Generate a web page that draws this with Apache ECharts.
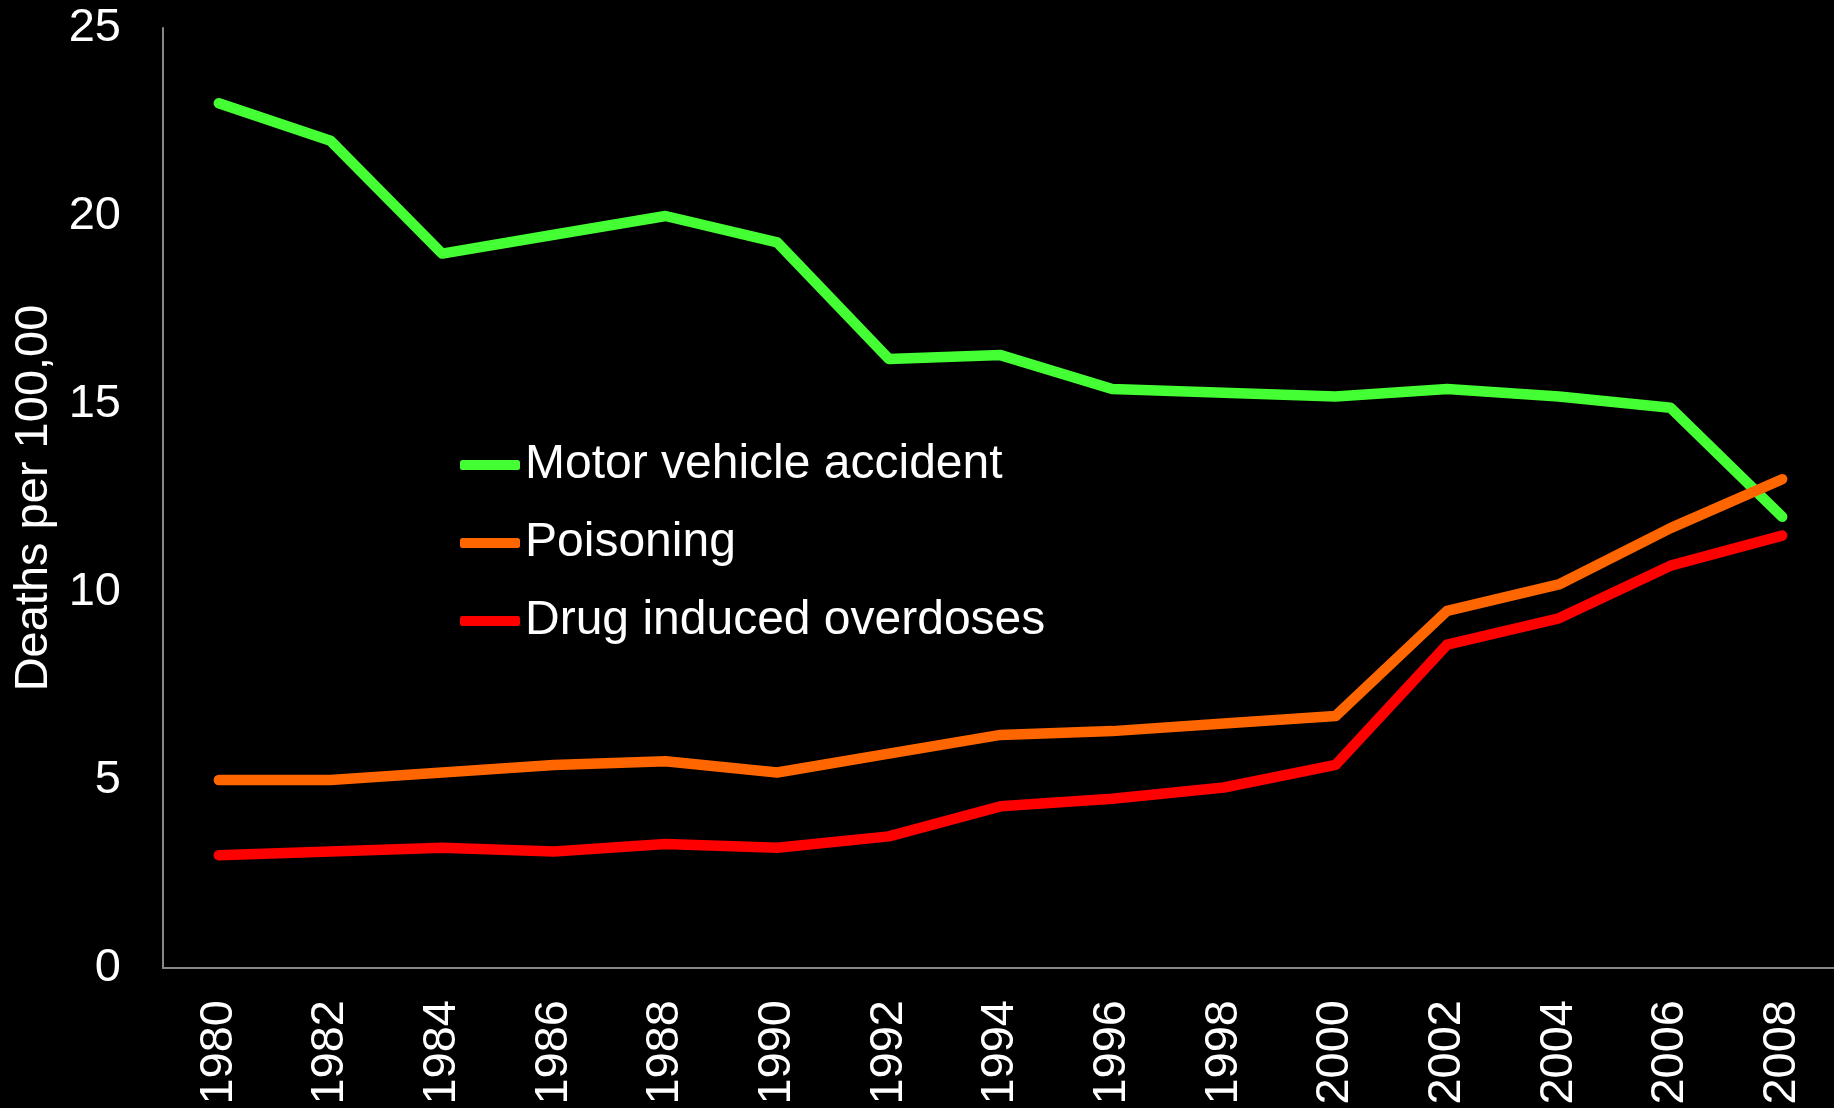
<!DOCTYPE html>
<html>
<head>
<meta charset="utf-8">
<script src="https://cdn.jsdelivr.net/npm/echarts@6/dist/echarts.min.js"></script>
<style>
html,body{margin:0;padding:0;background:#000;}
#chart{width:1834px;height:1108px;}
</style>
</head>
<body>
<div id="chart"></div>
<script>
const years = ['1980','1982','1984','1986','1988','1990','1992','1994','1996','1998','2000','2002','2004','2006','2008'];
const motorVehicle = [23.0,22.0,19.0,19.5,20.0,19.3,16.2,16.3,15.4,15.3,15.2,15.4,15.2,14.9,12.0];
const poisoning = [5.0,5.0,5.2,5.4,5.5,5.2,5.7,6.2,6.3,6.5,6.7,9.5,10.2,11.7,13.0];
const drugOverdoses = [3.0,3.1,3.2,3.1,3.3,3.2,3.5,4.3,4.5,4.8,5.4,8.6,9.3,10.7,11.5];
const seriesNames = ['Motor vehicle accident','Poisoning','Drug induced overdoses'];
const yAxisName = 'Deaths per 100,00';

const FONT = '"Liberation Sans", Arial, sans-serif';
const chart = echarts.init(document.getElementById('chart'));
function mkLine(name, data, color){
  return {
    name, type:'line', data, symbol:'none', smooth:false,
    lineStyle:{color, width:10.5, cap:'round', join:'round'},
    itemStyle:{color},
    emphasis:{disabled:true}
  };
}
chart.setOption({
  backgroundColor:'#000',
  animation:false,
  textStyle:{fontFamily:FONT},
  grid:{left:163, right:-4, top:28, bottom:140, outerBoundsMode:'none', containLabel:false},
  legend:{
    orient:'vertical', left:455, top:436, itemGap:30,
    icon:'roundRect', itemWidth:60, itemHeight:10,
    textStyle:{color:'#fff', fontSize:48, fontFamily:FONT},
    data:seriesNames
  },
  xAxis:{
    type:'category', data:years, boundaryGap:true,
    axisLine:{lineStyle:{color:'#888', width:2}},
    axisTick:{show:false},
    axisLabel:{rotate:90, margin:32, color:'#fff', fontSize:47, fontFamily:FONT}
  },
  yAxis:{
    type:'value', min:0, max:25, interval:5,
    name:yAxisName, nameLocation:'middle', nameGap:104, nameRotate:90,
    nameTextStyle:{color:'#fff', fontSize:47, fontFamily:FONT},
    axisLine:{show:true, lineStyle:{color:'#888', width:2}},
    axisTick:{show:false},
    splitLine:{show:false},
    axisLabel:{margin:42, color:'#fff', fontSize:47, fontFamily:FONT}
  },
  series:[
    mkLine(seriesNames[0], motorVehicle, '#44ff33'),
    mkLine(seriesNames[1], poisoning, '#ff6600'),
    mkLine(seriesNames[2], drugOverdoses, '#ff0000')
  ]
});
</script>
</body>
</html>
